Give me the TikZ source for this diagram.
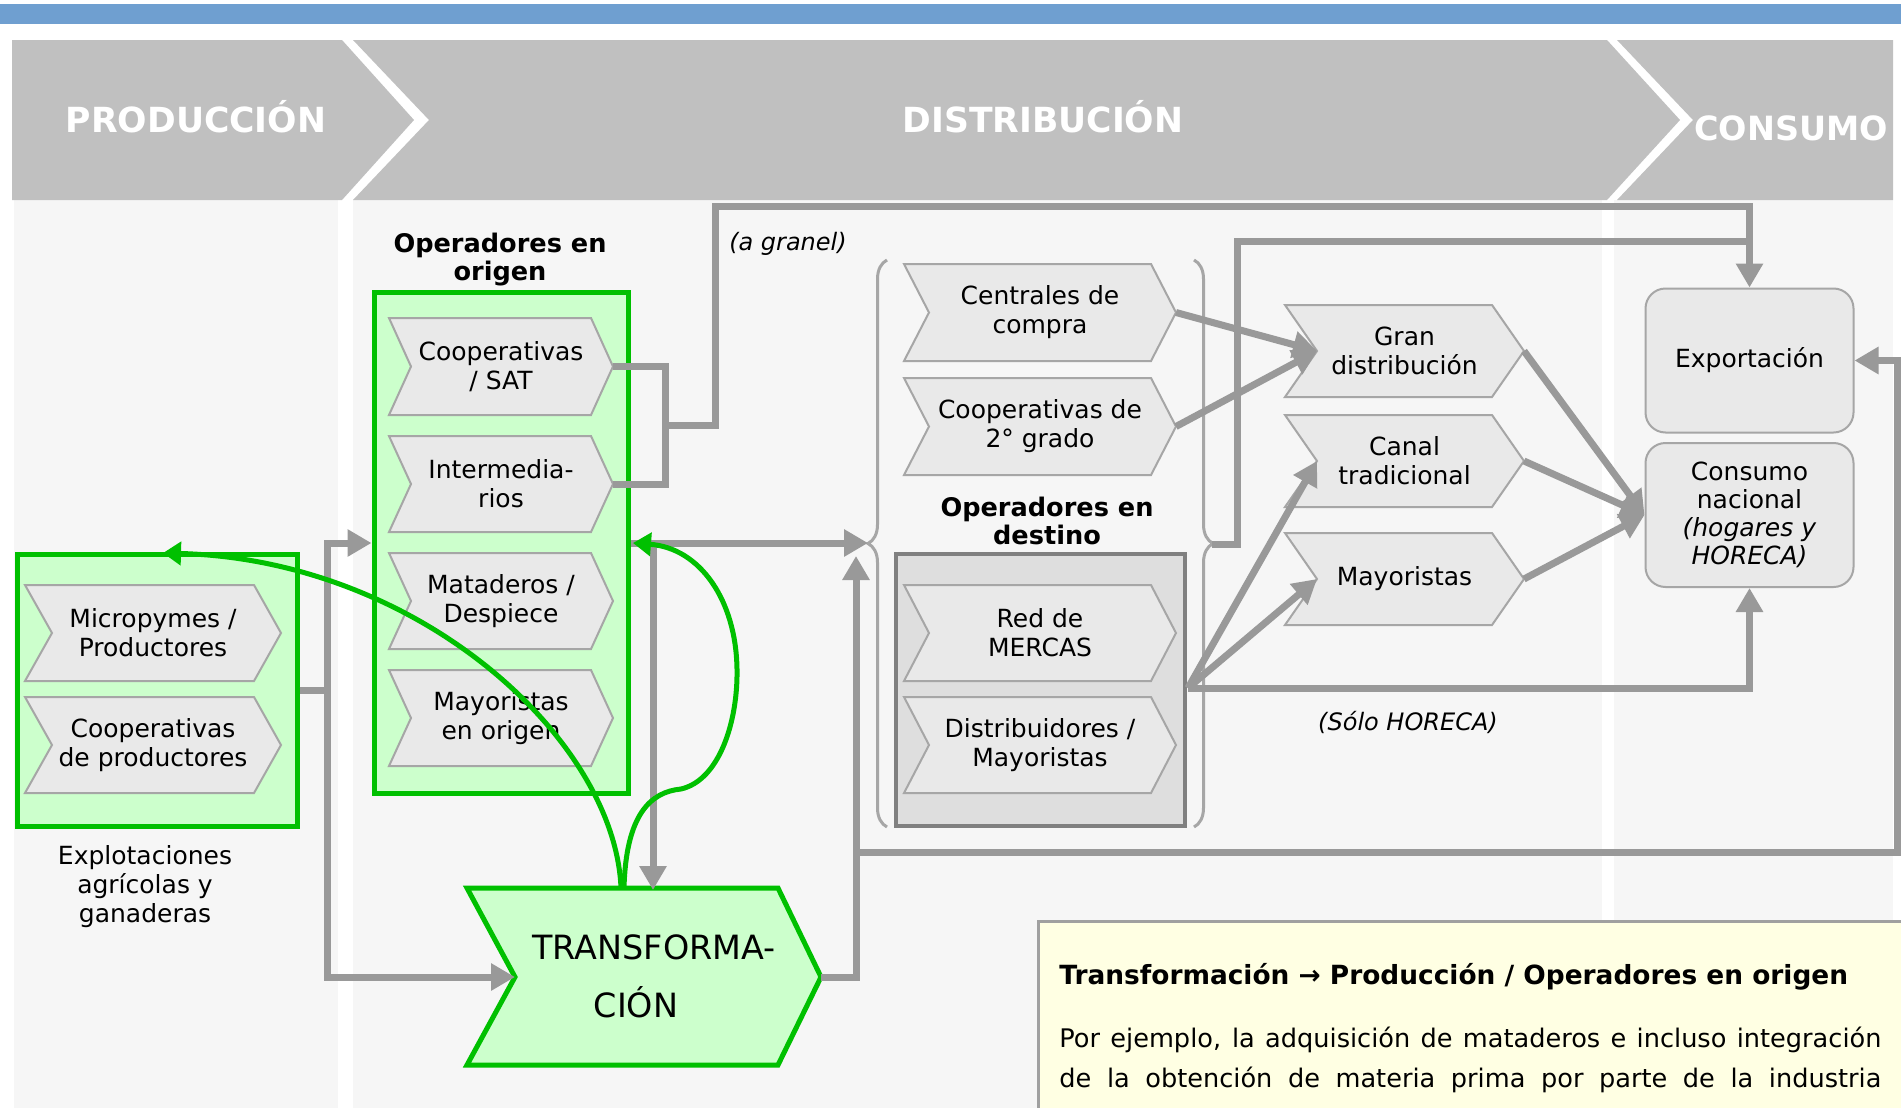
\documentclass[tikz,border=0pt]{standalone}
\usepackage{fontspec}
\setmainfont{DejaVu Sans}
\usetikzlibrary{arrows.meta,decorations.pathreplacing}
\definecolor{bluecol}{HTML}{6F9FD0}
\definecolor{headgray}{HTML}{C0C0C0}
\definecolor{bgcol}{HTML}{F6F6F6}
\definecolor{chevfill}{HTML}{E9E9E9}
\definecolor{chevdraw}{HTML}{A6A6A6}
\definecolor{conncol}{HTML}{999999}
\definecolor{greencol}{HTML}{00C000}
\definecolor{greenfill}{HTML}{CCFFCC}
\definecolor{destfill}{HTML}{DEDEDE}
\definecolor{destdraw}{HTML}{808080}
\definecolor{notefill}{HTML}{FFFFE3}
\definecolor{notedraw}{HTML}{A0A0A0}
\tikzset{
  conn/.style={draw=conncol, line width=3.5pt, line join=miter},
  connarrow/.style={conn, -{Triangle[length=12pt,width=13pt]}},
  greenarrow/.style={draw=greencol, line width=2.5pt, -{Triangle[length=9pt,width=11.5pt]}},
  chevshape/.style={fill=chevfill, draw=chevdraw, line width=1pt},
  chevtext/.style={font=\fontsize{12.5}{14.5}\selectfont, align=center, inner sep=0pt},
  greenbox/.style={fill=greenfill, draw=greencol, line width=2.5pt, inner sep=0pt},
  destbox/.style={fill=destfill, draw=destdraw, line width=2pt, inner sep=0pt},
  roundbox/.style={fill=chevfill, draw=chevdraw, line width=1pt, rounded corners=10pt,
    font=\fontsize{12.5}{14}\selectfont, align=center, inner sep=0pt,
    minimum width=104pt, minimum height=72pt},
  headtext/.style={text=white, font=\fontsize{17.3}{20}\selectfont\bfseries, inner sep=0pt, anchor=base},
  titletext/.style={font=\fontsize{12.8}{14}\selectfont\bfseries, align=center, inner sep=0pt},
  plaintext/.style={font=\fontsize{12.5}{14.5}\selectfont, align=center, inner sep=0pt},
  labeltext/.style={font=\fontsize{12}{14}\selectfont\itshape, inner sep=0pt},
  notetext/.style={anchor=base west, inner sep=0pt, font=\fontsize{12.8}{15}\selectfont},
  bracestyle/.style={draw=chevdraw, line width=1.5pt, decorate, decoration={brace, amplitude=9.5pt, aspect=0.5}},
}
% name, x1, x2, y1, y2, depth, text
\newcommand\chevbox[7]{%
  \filldraw[chevshape] (#2,#4) -- ({#3-#6},#4) -- (#3,{(#4+#5)/2}) -- ({#3-#6},#5) -- (#2,#5) -- ({#2+#6},{(#4+#5)/2}) -- cycle;
  \node[chevtext] (#1) at ({(#2+#3)/2},{(#4+#5)/2}) {#7};
  \coordinate (#1-tip) at (#3,{(#4+#5)/2});
  \coordinate (#1-notch) at ({#2+#6},{(#4+#5)/2});
}
\begin{document}
\begin{tikzpicture}[x=0.5pt,y=-0.5pt]
\useasboundingbox (0,0) rectangle (1901,1108);
\clip (0,0) rectangle (1901,1108);
\fill[white] (0,0) rectangle (1901,1108);
\fill[bluecol] (0,4) rectangle (1901,24);
% column backgrounds
\fill[bgcol] (14,200) rectangle (338,1108);
\fill[bgcol] (353,200) rectangle (1602,1108);
\fill[bgcol] (1614,200) rectangle (1893,1108);
% header chevrons
\fill[headgray] (12,40) -- (342,40) -- (414,120) -- (342,200) -- (12,200) -- cycle;
\fill[headgray] (353,40) -- (1607,40) -- (1680,120) -- (1607,200) -- (353,200) -- (429,120) -- cycle;
\fill[headgray] (1617,40) -- (1893,40) -- (1893,200) -- (1617,200) -- (1693,120) -- cycle;
\node[headtext] (hprod) at (196,132) {PRODUCCIÓN};
\node[headtext] (hdist) at (1043,132) {DISTRIBUCIÓN};
\node[headtext, font=\fontsize{16.7}{20}\selectfont\bfseries] (hcons) at (1791,140) {CONSUMO};

% producción box
\node[greenbox, minimum width=140pt, minimum height=136pt] (explot) at (157,690) {};
\chevbox{micro}{25}{281}{585}{681}{27}{Micropymes /\\Productores}
\chevbox{coopprod}{25}{281}{697}{793}{27}{Cooperativas\\de productores}
\node[plaintext] (explab) at (145,887) {Explotaciones\\agrícolas y\\ganaderas};

% operadores en origen
\node[titletext] (torig) at (500,260) {Operadores en\\origen};
\node[greenbox, minimum width=127pt, minimum height=250.5pt] (origbox) at (501,543) {};
\chevbox{coopsat}{389}{613}{318}{415}{22}{Cooperativas\\/ SAT}
\chevbox{interm}{389}{613}{436}{532}{22}{Intermedia-\\rios}
\chevbox{matad}{389}{613}{553}{649}{22}{Mataderos /\\Despiece}
\chevbox{mayorig}{389}{613}{670}{766}{22}{Mayoristas\\en origen}

% transformación
\filldraw[fill=greenfill, draw=greencol, line width=2.5pt] (467,888) -- (778,888) -- (821,977) -- (778,1065) -- (467,1065) -- (515,977) -- cycle;
\node[font=\fontsize{16.7}{29}\selectfont, align=center, inner sep=0pt] (transf) at (654,976) {TRANSFORMA-\\CIÓN\hspace*{18pt}};
\coordinate (transf-tip) at (821,977);
\coordinate (transf-notch) at (515,977);
\coordinate (transf-in) at (653,890);
\coordinate (transf-t1) at (621,888);
\coordinate (transf-t2) at (624,888);

% operadores en destino
\chevbox{centrales}{904}{1176}{264}{361}{25}{Centrales de\\compra}
\chevbox{coop2}{904}{1176}{378}{475}{25}{Cooperativas de\\2° grado}
\node[titletext] (tdest) at (1047,521) {Operadores en\\destino};
\node[destbox, minimum width=144.5pt, minimum height=136pt] (destbox) at (1040.5,690) {};
\chevbox{mercas}{904}{1176}{585}{681}{25}{Red de\\MERCAS}
\chevbox{distrib}{904}{1176}{697}{793}{25}{Distribuidores /\\Mayoristas}
\draw[bracestyle] (887,827) -- (887,260);
\draw[bracestyle] (1194,260) -- (1194,827);
\coordinate (lbrace) at (868,543);
\coordinate (rbrace) at (1212,544);

% minoristas
\chevbox{gran}{1285}{1524}{305}{397}{32}{Gran\\distribución}
\chevbox{canal}{1285}{1524}{415}{507}{32}{Canal\\tradicional}
\chevbox{mayor}{1285}{1524}{533}{625}{32}{Mayoristas}

% consumo
\node[roundbox] (export) at (1749.5,360.5) {Exportación};
\node[roundbox] (consumo) at (1749.5,515) {Consumo\\nacional\\\textit{(hogares y}\\\textit{HORECA)}};

% labels
\node[labeltext] (granel) at (788,244) {(a granel)};
\node[labeltext] (solo) at (1408,722) {(Sólo HORECA)};

% gray connectors
\coordinate (gj) at (665,425);
\draw[conn] (coopsat-tip) -| (665,484) -- (interm-tip);
\draw[connarrow] (gj) -- (715,425) -- (715,206) -- (1749.5,206) -- (export.north);
\coordinate (lj) at (327,690);
\draw[conn] (explot.east) -- (lj);
\draw[connarrow] (lj) |- (origbox.west);
\draw[connarrow] (lj) |- (transf-notch);
\draw[connarrow] (origbox.east) -- (lbrace);
\coordinate (oj) at (653,543);
\draw[connarrow] (oj) -- (transf-in);
\draw[connarrow] (transf-tip) -| (856,556);
\coordinate (tj) at (856,852);
\draw[connarrow] (tj) -- (1897,852) |- (export.east);
\draw[conn] (rbrace) -- (1237,544) |- (1752,241);
\draw[connarrow] (centrales-tip) -- (gran-notch);
\draw[connarrow] (coop2-tip) -- (gran-notch);
\coordinate (dj) at (1188,688);
\draw[connarrow] (dj) -- (canal-notch);
\draw[connarrow] (dj) -- (mayor-notch);
\draw[connarrow] (dj) -| (consumo.south);
\draw[connarrow] (gran-tip) -- (consumo.west);
\draw[connarrow] (canal-tip) -- (consumo.west);
\draw[connarrow] (mayor-tip) -- (consumo.west);

% green curves
\coordinate (explot-top) at (163,553);
\coordinate (orig-right) at (633,543);
\draw[greenarrow] (transf-t1) .. controls (615,740) and (420,560) .. (explot-top);
\draw[greenarrow] (transf-t2) .. controls (626,815) and (650,792) .. (681,789) .. controls (720,780) and (738,720) .. (737,669) .. controls (736,600) and (700,548) .. (orig-right);

% note box
\filldraw[fill=notefill, draw=notedraw, line width=1.5pt] (1038,921) rectangle (1930,1140);
\node[notetext, font=\fontsize{13.2}{15}\selectfont\bfseries] (notehead) at (1059,984) {Transformación → Producción / Operadores en origen};
\node[notetext] (note1) at (1059,1047) {\makebox[411pt][s]{Por ejemplo, la adquisición de mataderos e incluso integración}};
\node[notetext] (note2) at (1059,1087) {\makebox[411pt][s]{de la obtención de materia prima por parte de la industria}};
\end{tikzpicture}
\end{document}
